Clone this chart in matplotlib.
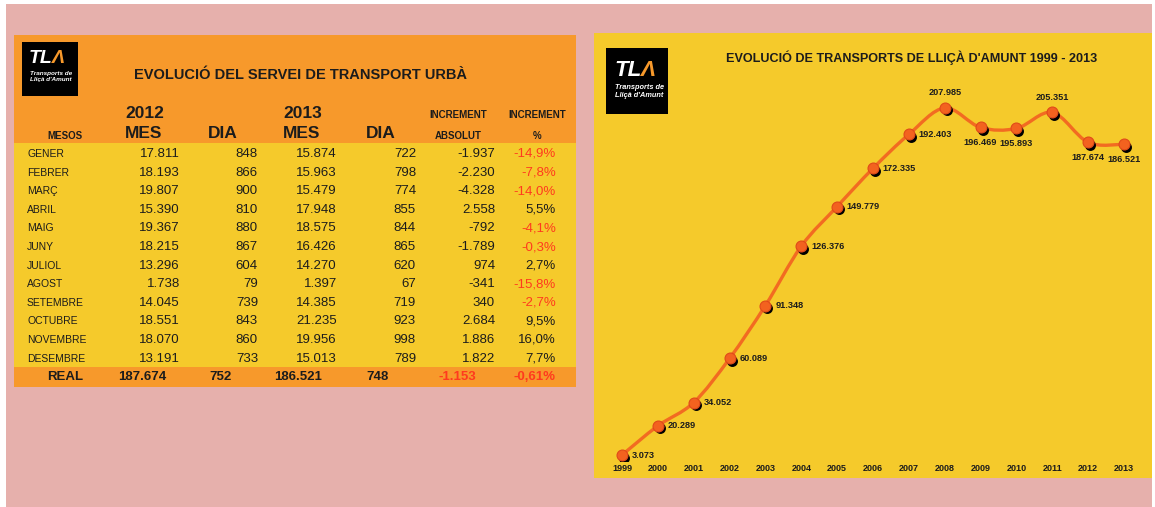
import numpy as np
import matplotlib
matplotlib.use("Agg")
import matplotlib.pyplot as plt
from matplotlib.patches import Rectangle, PathPatch
from matplotlib.path import Path
from matplotlib.transforms import offset_copy

plt.rcParams["font.family"] = ["Liberation Sans", "DejaVu Sans"]

# --- table data (left panel) ---
mesos = ["GENER", "FEBRER", "MARÇ", "ABRIL", "MAIG", "JUNY", "JULIOL",
         "AGOST", "SETEMBRE", "OCTUBRE", "NOVEMBRE", "DESEMBRE"]
mes_2012 = [17811, 18193, 19807, 15390, 19367, 18215, 13296, 1738, 14045, 18551, 18070, 13191]
dia_2012 = [848, 866, 900, 810, 880, 867, 604, 79, 739, 843, 860, 733]
mes_2013 = [15874, 15963, 15479, 17948, 18575, 16426, 14270, 1397, 14385, 21235, 19956, 15013]
dia_2013 = [722, 798, 774, 855, 844, 865, 620, 67, 719, 923, 998, 789]
inc_abs = [-1937, -2230, -4328, 2558, -792, -1789, 974, -341, 340, 2684, 1886, 1822]
inc_pct = [-14.9, -7.8, -14.0, 5.5, -4.1, -0.3, 2.7, -15.8, -2.7, 9.5, 16.0, 7.7]
total_2012, total_dia_2012 = 187674, 752
total_2013, total_dia_2013 = 186521, 748
total_abs, total_pct = -1153, -0.61

# --- yearly data (right panel) ---
anys = list(range(1999, 2014))
viatgers = [3073, 20289, 34052, 60089, 91348, 126376, 149779, 172335,
            192403, 207985, 196469, 195893, 205351, 187674, 186521]
label_pos = ["r"] * 9 + ["a", "b", "b", "a", "b", "b"]

PINK = "#e6b0ac"
ORANGE = "#f7992b"
YELLOW = "#f5ca2b"
RED = "#ff3a1e"
INK = "#1c1c1c"
LINE = "#f26b21"


def fmt(v):
    return f"{v:,}".replace(",", ".")


def fmt_pct(p, d=1):
    return f"{p:.{d}f}%".replace(".", ",")


fig = plt.figure(figsize=(11.55, 5.07), dpi=100, facecolor="white")
ax0 = fig.add_axes([0, 0, 1, 1])
ax0.set_xlim(0, 1155)
ax0.set_ylim(507, 0)
ax0.axis("off")

# backgrounds
ax0.add_patch(Rectangle((6, 4), 1146, 503, color=PINK, lw=0))
ax0.add_patch(Rectangle((14, 35), 562, 352, color=ORANGE, lw=0))
ax0.add_patch(Rectangle((14, 143), 562, 224, color=YELLOW, lw=0))
ax0.add_patch(Rectangle((594, 33), 558, 445, color=YELLOW, lw=0))


def draw_logo(x, y, w, h, s, dy=0):
    ax0.add_patch(Rectangle((x, y), w, h, color="black", lw=0))
    ax0.text(x + 7 * s, y + dy + 21 * s, "TL", color="white", fontsize=14 * s,
             fontweight="bold", style="italic", va="baseline", ha="left")
    ax0.text(x + 30 * s, y + dy + 21 * s, "Λ", color=ORANGE, fontsize=14 * s,
             fontweight="bold", style="italic", va="baseline", ha="left")
    ax0.text(x + 8 * s, y + dy + 31 * s, "Transports de", color="white",
             fontsize=4.6 * s, style="italic", fontweight="bold", va="center", ha="left")
    ax0.text(x + 8 * s, y + dy + 38 * s, "Lliçà d'Amunt", color="white",
             fontsize=4.6 * s, style="italic", fontweight="bold", va="center", ha="left")


draw_logo(22, 42, 56, 54, 1.0)
draw_logo(606, 48, 62, 66, 1.15, dy=4)

# --- left table ---
ax0.text(301, 75, "EVOLUCIÓ DEL SERVEI DE TRANSPORT URBÀ", fontsize=10.5,
         fontweight="bold", color=INK, ha="center", va="center")

hb = dict(fontweight="bold", color=INK, va="center")
ax0.text(65, 136, "MESOS", fontsize=7, ha="center", **hb)
ax0.text(125, 113, "2012", fontsize=12.5, ha="left", **hb)
ax0.text(125, 133, "MES", fontsize=12.5, ha="left", **hb)
ax0.text(208, 133, "DIA", fontsize=12.5, ha="left", **hb)
ax0.text(283, 113, "2013", fontsize=12.5, ha="left", **hb)
ax0.text(283, 133, "MES", fontsize=12.5, ha="left", **hb)
ax0.text(366, 133, "DIA", fontsize=12.5, ha="left", **hb)
ax0.text(458, 115, "INCREMENT", fontsize=7, ha="center", **hb)
ax0.text(458, 136, "ABSOLUT", fontsize=7, ha="center", **hb)
ax0.text(537, 115, "INCREMENT", fontsize=7, ha="center", **hb)
ax0.text(537, 136, "%", fontsize=7, ha="center", **hb)

col_right = [180, 258, 337, 416, 495, 556]
for i, mes in enumerate(mesos):
    y = 154 + i * 18.6
    ax0.text(27, y, mes, fontsize=7.5, color=INK, ha="left", va="center")
    vals = [fmt(mes_2012[i]), fmt(dia_2012[i]), fmt(mes_2013[i]),
            fmt(dia_2013[i]), fmt(inc_abs[i]), fmt_pct(inc_pct[i])]
    for j, v in enumerate(vals):
        c = RED if (j == 5 and inc_pct[i] < 0) else INK
        ax0.text(col_right[j], y, v, fontsize=9.5, color=c, ha="right", va="center")

y = 377
ax0.text(65, y, "REAL", fontsize=9.5, ha="center", **hb)
tot_right = [166, 232, 322, 389, 476, 556]
tot_vals = [fmt(total_2012), fmt(total_dia_2012), fmt(total_2013),
            fmt(total_dia_2013), fmt(total_abs), fmt_pct(total_pct, 2)]
for j, v in enumerate(tot_vals):
    c = RED if j >= 4 else INK
    ax0.text(tot_right[j], y, v, fontsize=9.5, fontweight="bold", color=c,
             ha="right", va="center")

# --- right chart ---
ax0.text(912, 58, "EVOLUCIÓ DE TRANSPORTS DE LLIÇÀ D'AMUNT 1999 - 2013",
         fontsize=9.1, fontweight="bold", color=INK, ha="center", va="center")

ax = fig.add_axes([594 / 1155, (507 - 461) / 507, 558 / 1155, (461 - 33) / 507])
ax.patch.set_alpha(0)
ax.set_xlim(1998.219, 2013.781)
ax.set_ylim(-470, 252264)
for s in ax.spines.values():
    s.set_visible(False)
ax.set_yticks([])
ax.set_xticks(anys)
ax.set_xticklabels([str(a) for a in anys], fontsize=6.5, fontweight="bold", color=INK)
ax.tick_params(axis="x", length=0, pad=2)

# smooth line (Catmull-Rom as cubic beziers)
pts = np.column_stack([anys, viatgers]).astype(float)
ext = np.vstack([pts[0], pts, pts[-1]])
verts = [tuple(pts[0])]
codes = [Path.MOVETO]
for k in range(1, len(ext) - 2):
    p0, p1, p2, p3 = ext[k - 1], ext[k], ext[k + 1], ext[k + 2]
    c1 = p1 + (p2 - p0) / 6
    c2 = p2 - (p3 - p1) / 6
    verts += [tuple(c1), tuple(c2), tuple(p2)]
    codes += [Path.CURVE4] * 3
ax.add_patch(PathPatch(Path(verts, codes), fill=False, ec=LINE, lw=2.4,
                       capstyle="round", joinstyle="round", zorder=2))

shadow = offset_copy(ax.transData, fig=fig, x=2, y=-2.5, units="dots")
ax.scatter(anys, viatgers, s=62, color="black", transform=shadow, zorder=3, lw=0)
ax.scatter(anys, viatgers, s=62, color="#f3621f", edgecolors="#e04a1a",
           linewidths=0.8, zorder=4)

for a, v, p in zip(anys, viatgers, label_pos):
    if p == "r":
        off, ha = (7, 0), "left"
    elif p == "a":
        off, ha = (0, 11), "center"
    else:
        off, ha = (0, -11), "center"
    ax.annotate(fmt(v), (a, v), xytext=off, textcoords="offset points",
                ha=ha, va="center", fontsize=6.6, fontweight="bold", color=INK)

fig.savefig("out.png", dpi=100, facecolor="white")
